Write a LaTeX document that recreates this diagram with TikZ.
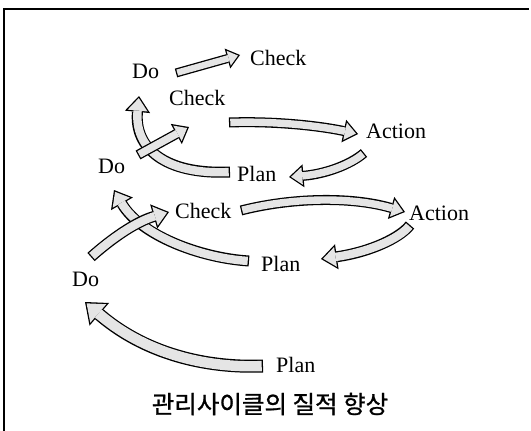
\documentclass[tikz,border=0pt]{standalone}
\usepackage{fontspec}
\setmainfont{Liberation Serif}
\newfontfamily\krfont{Noto Sans CJK KR}[FakeBold=1]
\usetikzlibrary{arrows.meta}
\definecolor{fillc}{gray}{0.9}
\newcommand\blkarrow[2]{%
 \pgfmathsetmacro\baBW{#1}%
 \pgfmathsetmacro\baGW{#1-2*1.3}%
 \pgfmathsetmacro\baHW{2.3*#1}%
 \pgfmathsetmacro\baHL{1.45*#1}%
 \pgfmathsetmacro\baTA{\baHW/2/\baHL}%
 \pgfmathsetmacro\baSA{sin(atan(\baTA))}%
 \pgfmathsetmacro\baTS{1.3/\baSA}%
 \pgfmathsetmacro\baIL{\baHL-\baTS-1.3}%
 \pgfmathsetmacro\baIW{2*\baIL*\baTA}%
 \draw[line width=\baBW pt,black,-{Triangle[length=\baHL pt,width=\baHW pt,line width=0pt]}] #2;
 \draw[line width=\baGW pt,fillc,shorten <=1.3pt,shorten >=\baTS pt,-{Triangle[length=\baIL pt,width=\baIW pt,line width=0pt]}] #2;
}
\begin{document}
\begin{tikzpicture}[x=1pt,y=-1pt,
  lbl/.style={font=\fontsize{22}{22}\selectfont,inner sep=0pt,anchor=base west},
  ttl/.style={font=\krfont\fontsize{24.5}{24.5}\selectfont,inner sep=0pt,anchor=center}]
\useasboundingbox (0,0) rectangle (531,431);
\draw[line width=1.3pt] (4,431) -- (4,9) -- (529,9);
% labels
\node[lbl] (do1) at (132,78) {Do};
\node[lbl] (ch1) at (250,65) {Check};
\node[lbl] (ch2) at (169,105) {Check};
\node[lbl] (ac1) at (366,138) {Action};
\node[lbl] (do2) at (98,173) {Do};
\node[lbl] (pl2) at (237,181) {Plan};
\node[lbl] (ch3) at (175,218) {Check};
\node[lbl] (ac2) at (409,220) {Action};
\node[lbl] (pl3) at (261,271) {Plan};
\node[lbl] (do3) at (72,286) {Do};
\node[lbl] (pl4) at (276,372) {Plan};
\node[ttl] (title) at (270,404) {관리사이클의 질적 향상};
% arrow end points
\coordinate (a1s) at (176,73);   \coordinate (a1e) at (240,55);
\coordinate (a2s) at (230,172);  \coordinate (a2e) at (139,96);
\coordinate (a3s) at (138,155);  \coordinate (a3e) at (189,127);
\coordinate (a4s) at (229,122.5);\coordinate (a4e) at (358,134);
\coordinate (a5s) at (364,153);  \coordinate (a5e) at (289,177);
\coordinate (a6s) at (249,261);  \coordinate (a6e) at (114,190);
\coordinate (a7s) at (91,257);   \coordinate (a7e) at (169,212);
\coordinate (a8s) at (241,210.5);\coordinate (a8e) at (405,212);
\coordinate (a9s) at (410,225);  \coordinate (a9e) at (321,259);
\coordinate (a10s) at (263,366); \coordinate (a10e) at (85,302);
% arrows
\blkarrow{9}{(a1s) -- (a1e)}
\blkarrow{11}{(a2s) .. controls (165,175) and (134,148) .. (a2e)}
\blkarrow{10}{(a3s) -- (a3e)}
\blkarrow{10}{(a4s) .. controls (270,121) and (315,125) .. (a4e)}
\blkarrow{10}{(a5s) .. controls (350,165) and (325,174) .. (a5e)}
\blkarrow{11}{(a6s) .. controls (200,258) and (140,235) .. (a6e)}
\blkarrow{11}{(a7s) .. controls (110,240) and (135,222) .. (a7e)}
\blkarrow{10}{(a8s) .. controls (290,198) and (350,196) .. (a8e)}
\blkarrow{11}{(a9s) .. controls (400,238) and (370,252) .. (a9e)}
\blkarrow{13}{(a10s) .. controls (215,368) and (150,358) .. (a10e)}
\end{tikzpicture}
\end{document}
